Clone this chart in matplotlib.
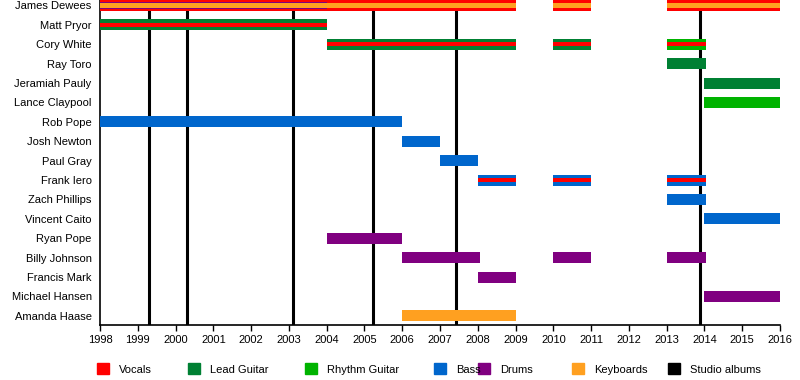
import matplotlib
matplotlib.use('Agg')
import matplotlib.pyplot as plt
from matplotlib.patches import Rectangle

plt.rcParams['font.family'] = ['Liberation Sans', 'DejaVu Sans']

members = ['James Dewees', 'Matt Pryor', 'Cory White', 'Ray Toro', 'Jeramiah Pauly',
           'Lance Claypool', 'Rob Pope', 'Josh Newton', 'Paul Gray', 'Frank Iero',
           'Zach Phillips', 'Vincent Caito', 'Ryan Pope', 'Billy Johnson',
           'Francis Mark', 'Michael Hansen', 'Amanda Haase']

# (member, start, end)
vocals_lead = [('James Dewees', 1998, 2009), ('James Dewees', 2010, 2011),
               ('James Dewees', 2013, 2016)]
vocals = [('Matt Pryor', 1998, 2004), ('Cory White', 2004, 2009), ('Cory White', 2010, 2011),
          ('Cory White', 2013, 2014.05), ('Frank Iero', 2008, 2009),
          ('Frank Iero', 2010, 2011), ('Frank Iero', 2013, 2014.05)]
lead_guitar = [('Matt Pryor', 1998, 2004), ('Cory White', 2004, 2009), ('Cory White', 2010, 2011),
               ('Ray Toro', 2013, 2014.05), ('Jeramiah Pauly', 2014, 2016)]
rhythm_guitar = [('Cory White', 2013, 2014.05), ('Lance Claypool', 2014, 2016)]
bass = [('Rob Pope', 1998, 2006), ('Josh Newton', 2006, 2007), ('Paul Gray', 2007, 2008),
        ('Frank Iero', 2008, 2009), ('Frank Iero', 2010, 2011), ('Frank Iero', 2013, 2014.05),
        ('Zach Phillips', 2013, 2014.05), ('Vincent Caito', 2014, 2016)]
drums = [('Ryan Pope', 2004, 2006), ('Billy Johnson', 2006, 2008.05), ('Billy Johnson', 2010, 2011),
         ('Billy Johnson', 2013, 2014.05), ('Francis Mark', 2008, 2009),
         ('Michael Hansen', 2014, 2016)]
drums_dewees = [('James Dewees', 1998, 2004)]
keyboards = [('Amanda Haase', 2006, 2009)]
keyboards_dewees = [('James Dewees', 1998, 2009), ('James Dewees', 2010, 2011),
                    ('James Dewees', 2013, 2016)]
albums = [1999.3, 2000.3, 2003.12, 2005.23, 2007.42, 2013.88]

legend_names = ['Vocals', 'Lead Guitar', 'Rhythm Guitar', 'Bass', 'Drums', 'Keyboards', 'Studio albums']
C = {'Vocals': '#ff0000', 'Lead Guitar': '#008033', 'Rhythm Guitar': '#00b300',
     'Bass': '#0066cc', 'Drums': '#800080', 'Keyboards': '#ffa020', 'Studio albums': '#000000'}

fig = plt.figure(figsize=(8, 3.8), dpi=100)
ax = fig.add_axes([100 / 800, 55 / 380, 680 / 800, 325 / 380])
row = {m: i for i, m in enumerate(members)}


def draw(segs, color, h):
    for m, s, e in segs:
        ax.barh(row[m], e - s, left=s, height=h, color=color, zorder=3)


FULL, MID, THIN = 0.57, 0.36, 0.22
draw(vocals_lead, C['Vocals'], FULL)
draw(drums_dewees, C['Drums'], MID)
draw(keyboards_dewees, C['Keyboards'], THIN)
draw(lead_guitar, C['Lead Guitar'], FULL)
draw(rhythm_guitar, C['Rhythm Guitar'], FULL)
draw(bass, C['Bass'], FULL)
draw(drums, C['Drums'], FULL)
draw(keyboards, C['Keyboards'], FULL)
draw(vocals, C['Vocals'], THIN)

for a in albums:
    ax.axvline(a, color='black', lw=2.2, zorder=2)

ax.set_xlim(1998, 2016)
ax.set_ylim(len(members) - 1 + 0.47, -0.28)
ax.set_xticks(range(1998, 2017))
ax.set_yticks(range(len(members)))
ax.set_yticklabels(members)
ax.tick_params(axis='y', length=0, pad=6, labelsize=8)
ax.tick_params(axis='x', length=4, width=1, pad=3, labelsize=8)
for sp in ('top', 'right'):
    ax.spines[sp].set_visible(False)
for sp in ('left', 'bottom'):
    ax.spines[sp].set_linewidth(1.2)

# legend drawn in figure pixels
leg_x = [97, 188, 305, 434, 478, 572, 668]
for x, name in zip(leg_x, legend_names):
    fig.add_artist(Rectangle((x / 800, (380 - 374) / 380), 12 / 800, 11 / 380,
                             transform=fig.transFigure, color=C[name]))
    fig.text((x + 22) / 800, (380 - 370) / 380, name, fontsize=8, va='center', ha='left')

fig.savefig('out.png', dpi=100)
